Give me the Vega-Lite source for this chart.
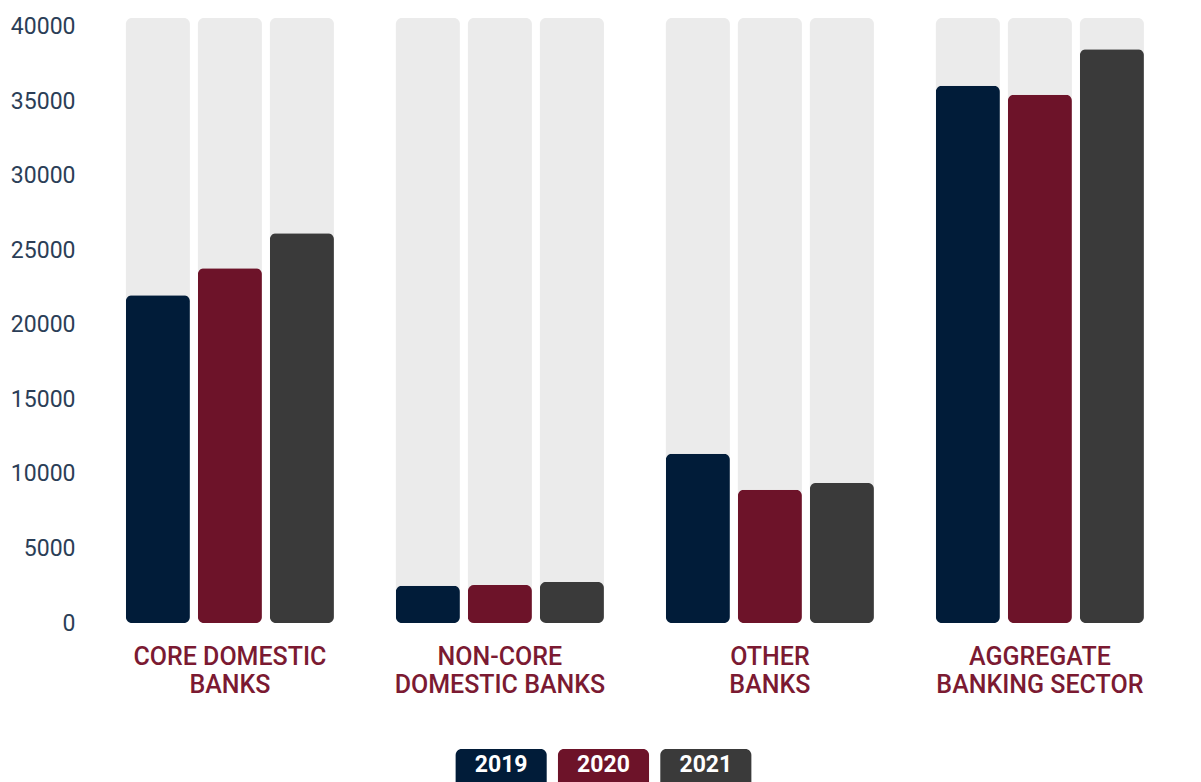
{
  "$schema": "https://vega.github.io/schema/vega-lite/v6.json",
  "background": "white",
  "padding": {"left": 10, "top": 15, "right": 0, "bottom": 0},
  "config": {
    "view": {"stroke": null},
    "font": "Roboto",
    "concat": {"spacing": 52}
  },
  "data": {
    "values": [
      {"category": "CORE DOMESTIC BANKS", "year": "2019", "value": 22000},
      {"category": "CORE DOMESTIC BANKS", "year": "2020", "value": 23800},
      {"category": "CORE DOMESTIC BANKS", "year": "2021", "value": 26150},
      {"category": "NON-CORE DOMESTIC BANKS", "year": "2019", "value": 2500},
      {"category": "NON-CORE DOMESTIC BANKS", "year": "2020", "value": 2550},
      {"category": "NON-CORE DOMESTIC BANKS", "year": "2021", "value": 2750},
      {"category": "OTHER BANKS", "year": "2019", "value": 11350},
      {"category": "OTHER BANKS", "year": "2020", "value": 8950},
      {"category": "OTHER BANKS", "year": "2021", "value": 9400},
      {"category": "AGGREGATE BANKING SECTOR", "year": "2019", "value": 36050},
      {"category": "AGGREGATE BANKING SECTOR", "year": "2020", "value": 35450},
      {"category": "AGGREGATE BANKING SECTOR", "year": "2021", "value": 38500}
    ]
  },
  "vconcat": [
    {
      "width": 1110,
      "height": 605,
      "encoding": {
        "x": {
          "field": "category",
          "type": "nominal",
          "sort": null,
          "scale": {"paddingInner": 0, "paddingOuter": 0.0556, "align": 0.13},
          "axis": {
            "title": null,
            "domain": false,
            "ticks": false,
            "labelAngle": 0,
            "labelPadding": 21,
            "labelFontSize": 25,
            "labelFontWeight": 500,
            "labelColor": "#7b1a32",
            "labelLineHeight": 28,
            "labelLimit": 0,
            "labelExpr": "datum.label == 'CORE DOMESTIC BANKS' ? ['CORE DOMESTIC', 'BANKS'] : datum.label == 'NON-CORE DOMESTIC BANKS' ? ['NON-CORE', 'DOMESTIC BANKS'] : datum.label == 'OTHER BANKS' ? ['OTHER', 'BANKS'] : ['AGGREGATE', 'BANKING SECTOR']"
          }
        },
        "xOffset": {
          "field": "year",
          "type": "nominal",
          "scale": {"paddingInner": 0.111, "paddingOuter": 0.43}
        }
      },
      "layer": [
        {
          "mark": {"type": "bar", "cornerRadius": 6, "fill": "#e6e6e6", "opacity": 0.8},
          "encoding": {
            "y": {
              "datum": 40600,
              "type": "quantitative",
              "scale": {"domain": [0, 40600], "nice": false},
              "axis": {
                "title": null,
                "values": [0, 5000, 10000, 15000, 20000, 25000, 30000, 35000, 40000],
                "domain": false,
                "ticks": false,
                "labelPadding": 16,
                "labelFontSize": 23,
                "labelColor": "#2b3e57",
                "gridColor": "#dadada",
                "gridWidth": 1.5,
                "format": "d"
              }
            },
            "y2": {"datum": 0}
          }
        },
        {
          "mark": {"type": "bar", "cornerRadius": 6},
          "encoding": {
            "y": {"field": "value", "type": "quantitative"},
            "color": {
              "field": "year",
              "type": "nominal",
              "scale": {"domain": ["2019", "2020", "2021"], "range": ["#011c39", "#6d1329", "#3a3a3a"]},
              "legend": null
            }
          }
        }
      ]
    },
    {
      "width": 1110,
      "height": 40,
      "transform": [{"aggregate": [{"op": "count", "as": "n"}], "groupby": ["year"]}],
      "encoding": {
        "x": {
          "field": "year",
          "type": "nominal",
          "scale": {"paddingInner": 0.11, "paddingOuter": 0.055, "range": [359, 666]},
          "axis": null
        }
      },
      "layer": [
        {
          "mark": {"type": "bar", "cornerRadius": 6},
          "encoding": {
            "color": {
              "field": "year",
              "type": "nominal",
              "scale": {"domain": ["2019", "2020", "2021"], "range": ["#011c39", "#6d1329", "#3a3a3a"]},
              "legend": null
            }
          }
        },
        {
          "mark": {"type": "text", "color": "white", "fontSize": 23, "fontWeight": "bold", "dy": -4},
          "encoding": {"text": {"field": "year"}}
        }
      ]
    }
  ]
}
